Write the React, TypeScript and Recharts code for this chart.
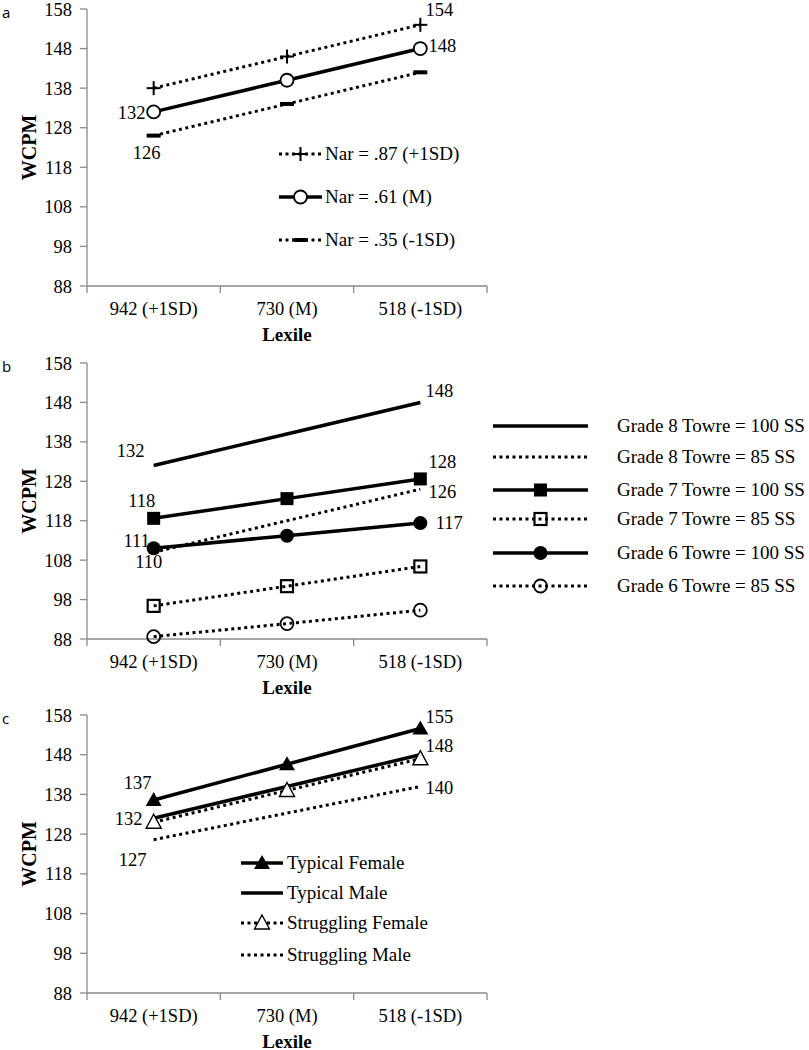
import { Line, LineChart, XAxis, YAxis } from "recharts";

const FONT = '"Liberation Serif", "Times New Roman", serif';
const INK = "#000";
const AXIS = "#8a8a8a";

const lexile = ["942 (+1SD)", "730 (M)", "518 (-1SD)"];
const wcpmTicks = [88, 98, 108, 118, 128, 138, 148, 158];

// panel a
const narHigh = [138, 146, 154];
const narMean = [132, 140, 148];
const narLow = [126, 134, 142];
const narHighLabels = ["", "", "154"];
const narMeanLabels = ["132", "", "148"];
const narLowLabels = ["126", "", ""];

// panel b
const g8Typical = [132, 140, 148];
const g8Low = [110, 118, 126];
const g7Typical = [118.6, 123.6, 128.6];
const g7Low = [96.4, 101.4, 106.4];
const g6Typical = [111, 114.2, 117.4];
const g6Low = [88.6, 91.9, 95.3];
const g8TypicalLabels = ["132", "", "148"];
const g8LowLabels = ["110", "", "126"];
const g7TypicalLabels = ["118", "", "128"];
const g6TypicalLabels = ["111", "", "117"];

// panel c
const typFemale = [136.6, 145.6, 154.6];
const typMale = [132, 140, 148];
const strFemale = [131, 139, 147];
const strMale = [126.6, 133.3, 140];
const typFemaleLabels = ["137", "", "155"];
const typMaleLabels = ["132", "", "148"];
const strMaleLabels = ["127", "", "140"];

type MarkerKind = "plus" | "ring" | "dash" | "square" | "box" | "disc" | "hollow" | "tri" | "openTri";
type Off = [number, number];
type Series = {
  name: string;
  values: number[];
  labels?: string[];
  offsets?: Off[];
  dotted: boolean;
  marker: MarkerKind | null;
};

function Marker({ kind, cx, cy }: { kind: MarkerKind; cx: number; cy: number }) {
  switch (kind) {
    case "plus":
      return (
        <g stroke={INK} strokeWidth={2}>
          <line x1={cx - 7} y1={cy} x2={cx + 7} y2={cy} />
          <line x1={cx} y1={cy - 7} x2={cx} y2={cy + 7} />
        </g>
      );
    case "ring":
      return <circle cx={cx} cy={cy} r={6.5} fill="#fff" stroke={INK} strokeWidth={1.8} />;
    case "dash":
      return <rect x={cx - 7} y={cy - 2} width={14} height={4} fill={INK} />;
    case "square":
      return <rect x={cx - 6.5} y={cy - 6.5} width={13} height={13} fill={INK} />;
    case "box":
      return <rect x={cx - 6} y={cy - 6} width={12} height={12} fill="none" stroke={INK} strokeWidth={2.2} />;
    case "disc":
      return <circle cx={cx} cy={cy} r={7} fill={INK} />;
    case "hollow":
      return <circle cx={cx} cy={cy} r={6.5} fill="none" stroke={INK} strokeWidth={1.8} />;
    case "tri":
      return <path d={`M${cx},${cy - 8}L${cx + 8},${cy + 6}L${cx - 8},${cy + 6}Z`} fill={INK} />;
    case "openTri":
      return (
        <path d={`M${cx},${cy - 8}L${cx + 7.5},${cy + 6}L${cx - 7.5},${cy + 6}Z`} fill="#fff" stroke={INK} strokeWidth={1.4} />
      );
  }
  return null;
}

function pointLabel(texts: string[], offsets: Off[]) {
  return (p: any) => {
    const t = texts[p.index];
    if (!t) return <g key={`l${p.index}`} />;
    const x = p.x ?? p.viewBox?.x;
    const y = p.y ?? p.viewBox?.y;
    const [dx, dy] = offsets[p.index];
    return (
      <text
        key={`l${p.index}`}
        x={x + dx}
        y={y + dy}
        textAnchor="middle"
        dominantBaseline="central"
        fontFamily={FONT}
        fontSize={18.5}
        fill={INK}
      >
        {t}
      </text>
    );
  };
}

function LexileTick(p: any) {
  const v = p.payload.value;
  if (Number.isInteger(v)) {
    return <line x1={p.x} y1={p.y} x2={p.x} y2={p.y + 7} stroke={AXIS} strokeWidth={1.3} />;
  }
  return (
    <text x={p.x} y={p.y + 23} textAnchor="middle" dominantBaseline="central" fontFamily={FONT} fontSize={18.5} fill={INK}>
      {lexile[Math.floor(v)]}
    </text>
  );
}

function XTitle(p: any) {
  const vb = p.viewBox;
  return (
    <text
      x={vb.x + vb.width / 2}
      y={vb.y + 48}
      textAnchor="middle"
      dominantBaseline="central"
      fontFamily={FONT}
      fontWeight="bold"
      fontSize={19}
      fill={INK}
    >
      Lexile
    </text>
  );
}

function YTitle(p: any) {
  const vb = p.viewBox;
  const cx = vb.x + 29;
  const cy = vb.y + vb.height / 2;
  return (
    <text
      x={cx}
      y={cy}
      transform={`rotate(-90, ${cx}, ${cy})`}
      textAnchor="middle"
      dominantBaseline="central"
      fontFamily={FONT}
      fontWeight="bold"
      fontSize={20}
      fill={INK}
    >
      WCPM
    </text>
  );
}

function LegendBox({
  items,
  x0,
  x1,
  textX,
  rows,
}: {
  items: Series[];
  x0: number;
  x1: number;
  textX: number;
  rows: number[];
}) {
  const w = x1 - x0;
  return (
    <>
      {items.map((s, i) => (
        <div key={s.name} style={{ position: "absolute", left: x0, top: rows[i] - 10, height: 20, width: 400 }}>
          <svg width={w} height={20} style={{ position: "absolute", left: 0, top: 0, overflow: "visible" }}>
            <line
              x1={0}
              y1={10}
              x2={w}
              y2={10}
              stroke={INK}
              strokeWidth={s.dotted ? 3 : 3.5}
              strokeDasharray={s.dotted ? "3 3.5" : undefined}
            />
            {s.marker && <Marker kind={s.marker} cx={w / 2} cy={10} />}
          </svg>
          <span
            style={{
              position: "absolute",
              left: textX - x0,
              top: 0,
              lineHeight: "20px",
              fontFamily: FONT,
              fontSize: 19,
              color: INK,
              whiteSpace: "nowrap",
            }}
          >
            {s.name}
          </span>
        </div>
      ))}
    </>
  );
}

function Panel({
  top,
  height,
  plotHeight,
  letter,
  series,
  legend,
}: {
  top: number;
  height: number;
  plotHeight: number;
  letter: string;
  series: Series[];
  legend: { items: Series[]; x0: number; x1: number; textX: number; rows: number[] };
}) {
  const data = lexile.map((_, i) => {
    const row: Record<string, number> = { x: i + 0.5 };
    series.forEach((s, j) => {
      row[`s${j}`] = s.values[i];
    });
    return row;
  });

  return (
    <div style={{ position: "absolute", left: 0, top, width: 809, height }}>
      <LineChart width={809} height={height} data={data} margin={{ top: 9, right: 322, bottom: 0, left: 0 }}>
        <XAxis
          type="number"
          dataKey="x"
          domain={[0, 3]}
          ticks={[0, 0.5, 1, 1.5, 2, 2.5, 3]}
          interval={0}
          allowDataOverflow
          tickLine={false}
          tickSize={0}
          tickMargin={0}
          stroke={AXIS}
          strokeWidth={1.3}
          height={height - 9 - plotHeight}
          tick={<LexileTick />}
          label={<XTitle />}
        />
        <YAxis
          domain={[88, 158]}
          ticks={wcpmTicks}
          interval={0}
          width={87}
          tickSize={7}
          tickMargin={8}
          stroke={AXIS}
          strokeWidth={1.3}
          tick={{ fill: INK, fontSize: 18.5, fontFamily: FONT }}
          label={<YTitle />}
        />
        {series.map((s, j) => (
          <Line
            key={s.name}
            type="linear"
            dataKey={`s${j}`}
            stroke={INK}
            strokeWidth={s.dotted ? 3 : 3.5}
            strokeDasharray={s.dotted ? "3 3.5" : undefined}
            isAnimationActive={false}
            activeDot={false}
            dot={
              s.marker
                ? (p: any) => <Marker key={`d${p.index}`} kind={s.marker as MarkerKind} cx={p.cx} cy={p.cy} />
                : false
            }
            label={s.labels ? pointLabel(s.labels, s.offsets as Off[]) : undefined}
          />
        ))}
      </LineChart>
      <LegendBox {...legend} />
      <div
        style={{
          position: "absolute",
          left: 2,
          top: 2,
          fontFamily: '"Open Sans", sans-serif',
          fontSize: 15,
          lineHeight: "20px",
          color: INK,
        }}
      >
        {letter}
      </div>
    </div>
  );
}

const seriesA: Series[] = [
  { name: "Nar = .87 (+1SD)", values: narHigh, labels: narHighLabels, offsets: [[0, 0], [0, 0], [19, -15]], dotted: true, marker: "plus" },
  { name: "Nar = .61 (M)", values: narMean, labels: narMeanLabels, offsets: [[-22, 1], [0, 0], [22, -3]], dotted: false, marker: "ring" },
  { name: "Nar = .35 (-1SD)", values: narLow, labels: narLowLabels, offsets: [[-7, 17], [0, 0], [0, 0]], dotted: true, marker: "dash" },
];

const seriesB: Series[] = [
  { name: "Grade 8 Towre = 100 SS", values: g8Typical, labels: g8TypicalLabels, offsets: [[-23, -15], [0, 0], [19, -11]], dotted: false, marker: null },
  { name: "Grade 8 Towre = 85 SS", values: g8Low, labels: g8LowLabels, offsets: [[-5, 10], [0, 0], [22, 3]], dotted: true, marker: null },
  { name: "Grade 7 Towre = 100 SS", values: g7Typical, labels: g7TypicalLabels, offsets: [[-12, -17], [0, 0], [22, -17]], dotted: false, marker: "square" },
  { name: "Grade 7 Towre = 85 SS", values: g7Low, dotted: true, marker: "box" },
  { name: "Grade 6 Towre = 100 SS", values: g6Typical, labels: g6TypicalLabels, offsets: [[-17, -7], [0, 0], [29, 0]], dotted: false, marker: "disc" },
  { name: "Grade 6 Towre = 85 SS", values: g6Low, dotted: true, marker: "hollow" },
];

const seriesC: Series[] = [
  { name: "Typical Female", values: typFemale, labels: typFemaleLabels, offsets: [[-16, -17], [0, 0], [19, -12]], dotted: false, marker: "tri" },
  { name: "Typical Male", values: typMale, labels: typMaleLabels, offsets: [[-25, 1], [0, 0], [19, -9]], dotted: false, marker: null },
  { name: "Struggling Female", values: strFemale, dotted: true, marker: "openTri" },
  { name: "Struggling Male", values: strMale, labels: strMaleLabels, offsets: [[-21, 20], [0, 0], [19, 2]], dotted: true, marker: null },
];

export default function App() {
  return (
    <div
      style={{
        position: "absolute",
        left: 0,
        top: 0,
        width: 809,
        height: 1050,
        overflow: "hidden",
        background: "#fff",
      }}
    >
      <Panel
        top={0}
        height={345}
        plotHeight={277}
        letter="a"
        series={seriesA}
        legend={{ items: seriesA, x0: 279, x1: 322, textX: 325, rows: [154, 197, 240] }}
      />
      <Panel
        top={354}
        height={344}
        plotHeight={276}
        letter="b"
        series={seriesB}
        legend={{ items: seriesB, x0: 493, x1: 588, textX: 617, rows: [72, 103, 136, 165, 199, 232] }}
      />
      <Panel
        top={706}
        height={344}
        plotHeight={278}
        letter="c"
        series={seriesC}
        legend={{ items: seriesC, x0: 241, x1: 283, textX: 287, rows: [157, 187, 217, 249] }}
      />
    </div>
  );
}
